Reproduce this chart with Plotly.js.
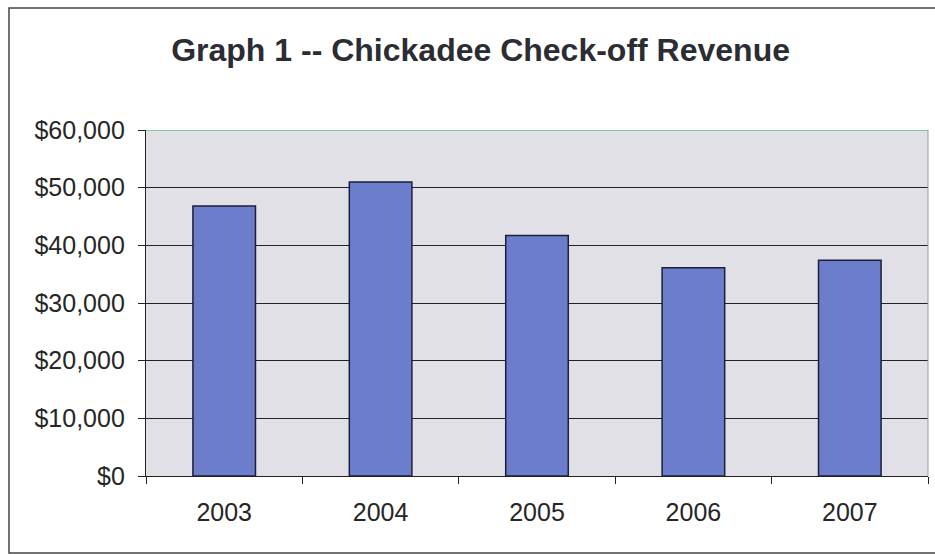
<!DOCTYPE html>
<html><head><meta charset="utf-8">
<script src="https://cdn.plot.ly/plotly-3.0.1.min.js"></script>
<style>html,body{margin:0;padding:0;background:#fff}#chart{width:935px;height:554px}</style>
</head><body><div id="chart"></div>
<script>
const years = ['2003','2004','2005','2006','2007'];
const revenue = [46800, 51000, 41700, 36100, 37400];
const yTicks = [0, 10000, 20000, 30000, 40000, 50000, 60000];
const yTickText = ['$0','$10,000','$20,000','$30,000','$40,000','$50,000','$60,000'];

const trace = {
  type: 'bar', x: years, y: revenue,
  marker: {color: '#6b7dcb', line: {color: '#1c1f3a', width: 1.5}},
  hoverinfo: 'none'
};
const PW = 782, PH = 346;
const layout = {
  width: 935, height: 554,
  margin: {l: 146, r: 7, t: 130, b: 78},
  paper_bgcolor: '#ffffff', plot_bgcolor: '#e1e0e6',
  font: {family: 'Liberation Sans, Arial, sans-serif', size: 25, color: '#262626'},
  title: {text: '<b>Graph 1 -- Chickadee Check-off Revenue</b>', x: 0.514, xanchor: 'center', y: 0.91, yanchor: 'middle',
          font: {family: 'Liberation Sans, Arial, sans-serif', size: 32, color: '#2c2c33'}},
  bargap: 0.6,
  showlegend: false,
  xaxis: {type: 'category', tickson: 'boundaries', ticks: 'outside', ticklen: 7, tickcolor: '#222',
          showline: true, linecolor: '#222', linewidth: 1.2, showgrid: false,
          tickfont: {size: 25, color: '#262626'}, ticklabelstandoff: 14},
  yaxis: {range: [0, 60000], tickmode: 'array', tickvals: yTicks, ticktext: yTickText,
          ticks: 'outside', ticklen: 7, tickcolor: '#222',
          showline: true, linecolor: '#222', linewidth: 1.2,
          showgrid: true, gridcolor: '#222', gridwidth: 1, zeroline: false,
          tickfont: {size: 25, color: '#262626'}, ticklabelstandoff: 8},
  shapes: [
    {type: 'line', xref: 'paper', yref: 'y', x0: 0, x1: 1, y0: 60000, y1: 60000, line: {color: '#5cc47a', width: 1.5}},
    {type: 'line', xref: 'paper', yref: 'paper', x0: 1, x1: 1, y0: 0, y1: 1, line: {color: '#999', width: 1}},
    {type: 'rect', xref: 'paper', yref: 'paper', x0: -137/PW, x1: 1 + 30/PW, y0: -77/PH, y1: 1 + 122/PH,
     line: {color: '#444', width: 1.5}, fillcolor: 'rgba(0,0,0,0)', layer: 'below'}
  ]
};
Plotly.newPlot('chart', [trace], layout, {displayModeBar: false, staticPlot: true});
</script></body></html>
